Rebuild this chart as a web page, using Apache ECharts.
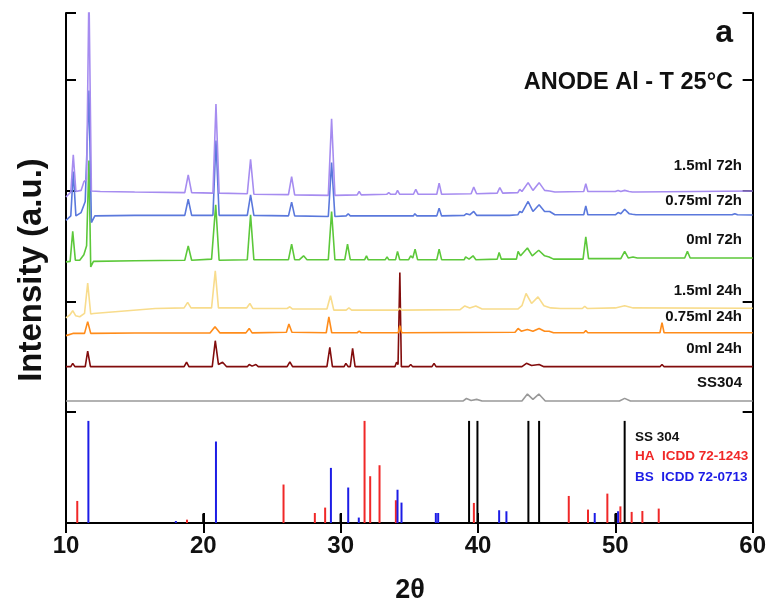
<!DOCTYPE html>
<html>
<head>
<meta charset="utf-8">
<script src="https://cdn.jsdelivr.net/npm/echarts@6/dist/echarts.min.js"></script>
<style>
  html, body { margin: 0; padding: 0; background: #fff; }
  #chart { width: 769px; height: 606px; }
</style>
</head>
<body>
<div id="chart"></div>
<script>
// x ticks (2θ)
const xTicks = [10, 20, 30, 40, 50, 60];

// sample names, top to bottom
const sampleNames = ['1.5ml 72h', '0.75ml 72h', '0ml 72h', '1.5ml 24h', '0.75ml 24h', '0ml 24h', 'SS304'];

// traces, [2θ, intensity] (stacked offsets included)
const ml15h72 = [[10.0,2.94],[10.35,2.985],[10.53,3.32],[10.72,2.99],[11.1,3.0],[11.31,3.08],[11.5,3.1],[11.67,4.8],[11.85,2.995],[12.5,2.99],[15.0,2.985],[18.65,2.98],[18.9,3.14],[19.15,2.98],[20.7,2.975],[20.92,3.78],[21.15,2.975],[23.2,2.97],[23.44,3.28],[23.68,2.965],[26.2,2.962],[26.43,3.125],[26.65,2.96],[29.1,2.955],[29.34,3.645],[29.58,2.955],[31.2,2.96],[31.35,2.99],[31.5,2.96],[33.35,2.965],[33.5,2.98],[33.65,2.965],[34.0,2.965],[34.14,3.0],[34.3,2.965],[35.3,2.965],[35.47,3.01],[35.65,2.965],[37.0,2.965],[37.17,3.066],[37.35,2.965],[39.5,2.97],[39.69,3.03],[39.9,2.97],[41.4,2.975],[41.59,3.026],[41.8,2.975],[42.9,2.98],[43.04,3.01],[43.2,2.99],[43.65,3.07],[44.0,3.0],[44.45,3.07],[44.85,3.0],[45.22,2.995],[45.6,2.985],[47.7,2.99],[47.85,3.06],[48.0,2.99],[50.0,2.99],[50.2,3.0],[50.4,2.99],[50.68,3.0],[51.0,2.99],[51.24,2.985],[51.5,2.985],[60.0,2.995]];
const ml075h72 = [[10.0,2.73],[10.35,2.77],[10.53,3.17],[10.72,2.77],[11.1,2.8],[11.4,2.9],[11.67,3.9],[11.85,2.71],[12.1,2.77],[15,2.775],[18.65,2.775],[18.9,2.92],[19.15,2.775],[20.7,2.775],[20.92,3.45],[21.15,2.775],[23.2,2.775],[23.44,2.96],[23.68,2.775],[26.2,2.77],[26.43,2.894],[26.65,2.77],[29.1,2.765],[29.34,3.25],[29.58,2.765],[30.4,2.77],[30.55,2.79],[30.7,2.77],[34.0,2.77],[34.14,2.785],[34.3,2.77],[35.3,2.77],[35.4,2.79],[35.55,2.77],[37.0,2.77],[37.17,2.84],[37.35,2.77],[39.0,2.775],[39.16,2.79],[39.4,2.78],[39.69,2.81],[39.9,2.775],[41.45,2.775],[41.59,2.79],[41.75,2.775],[42.0,2.775],[42.12,2.785],[42.3,2.775],[42.9,2.78],[43.04,2.81],[43.2,2.8],[43.65,2.9],[44.0,2.81],[44.45,2.87],[44.85,2.81],[45.22,2.81],[45.6,2.78],[47.7,2.78],[47.85,2.86],[48.0,2.78],[50.0,2.78],[50.2,2.8],[50.4,2.79],[50.68,2.83],[51.0,2.79],[51.24,2.785],[51.5,2.78],[58.5,2.78],[58.7,2.79],[58.9,2.78],[60,2.778]];
const ml0h72 = [[10.0,2.355],[10.3,2.36],[10.49,2.63],[10.68,2.37],[11.0,2.37],[11.3,2.42],[11.5,2.5],[11.67,3.27],[11.8,2.31],[12.0,2.36],[15,2.365],[18.65,2.37],[18.9,2.5],[19.15,2.37],[20.6,2.38],[20.9,2.87],[21.15,2.37],[23.2,2.375],[23.44,2.78],[23.68,2.375],[26.2,2.375],[26.43,2.515],[26.65,2.375],[27.0,2.375],[27.3,2.41],[27.55,2.375],[29.1,2.375],[29.34,2.81],[29.58,2.375],[30.3,2.375],[30.5,2.515],[30.7,2.375],[31.75,2.375],[31.88,2.41],[32.0,2.375],[33.25,2.375],[33.38,2.4],[33.5,2.375],[34.0,2.375],[34.14,2.45],[34.3,2.375],[34.95,2.375],[35.1,2.41],[35.25,2.39],[35.42,2.47],[35.6,2.375],[37.0,2.375],[37.17,2.47],[37.35,2.375],[39.0,2.375],[39.1,2.4],[39.35,2.38],[39.64,2.41],[39.85,2.375],[41.4,2.38],[41.54,2.44],[41.7,2.38],[42.8,2.38],[42.92,2.45],[43.1,2.41],[43.6,2.48],[43.95,2.41],[44.42,2.46],[44.85,2.41],[45.18,2.4],[45.5,2.38],[47.65,2.38],[47.85,2.58],[48.05,2.385],[50.4,2.385],[50.68,2.45],[50.95,2.39],[51.29,2.4],[51.6,2.39],[55.05,2.39],[55.25,2.45],[55.45,2.39],[60,2.39]];
const ml15h24 = [[10.0,1.85],[10.3,1.88],[10.49,1.915],[10.7,1.87],[11.0,1.86],[11.35,1.89],[11.58,2.163],[11.8,1.885],[12.0,1.89],[16.5,1.935],[18.6,1.94],[18.86,1.99],[19.1,1.94],[20.6,1.94],[20.87,2.274],[21.1,1.94],[23.15,1.94],[23.39,1.98],[23.6,1.935],[26.1,1.935],[26.3,1.95],[26.5,1.93],[29.0,1.93],[29.26,2.05],[29.5,1.92],[30.4,1.92],[30.6,1.94],[30.8,1.92],[34.15,1.92],[34.3,1.935],[34.45,1.92],[38.7,1.925],[39.04,1.958],[39.4,1.94],[39.84,1.958],[40.3,1.93],[42.9,1.93],[43.2,1.96],[43.5,2.07],[43.9,1.98],[44.37,2.04],[44.8,1.96],[45.3,1.94],[46,1.935],[47.6,1.935],[47.77,1.955],[47.95,1.935],[50.0,1.94],[50.68,1.96],[51.3,1.94],[60,1.937]];
const ml075h24 = [[10.0,1.69],[10.5,1.71],[11.35,1.71],[11.58,1.816],[11.8,1.71],[15,1.714],[20.5,1.715],[20.85,1.77],[21.2,1.715],[23.1,1.715],[23.34,1.755],[23.55,1.715],[26.05,1.72],[26.23,1.795],[26.45,1.72],[28.95,1.716],[29.14,1.86],[29.35,1.716],[31.2,1.716],[31.35,1.73],[31.5,1.716],[34.2,1.716],[34.31,1.78],[34.45,1.716],[42.7,1.72],[42.92,1.755],[43.15,1.73],[43.6,1.745],[44.0,1.73],[44.45,1.755],[44.85,1.73],[45.18,1.73],[45.5,1.716],[47.7,1.716],[47.85,1.735],[48.0,1.716],[53.25,1.716],[53.4,1.807],[53.55,1.716],[60,1.716]];
const ml0h24 = [[10.0,1.41],[10.35,1.41],[10.49,1.44],[10.65,1.41],[11.4,1.41],[11.58,1.55],[11.78,1.41],[18.6,1.41],[18.78,1.45],[18.95,1.41],[20.65,1.41],[20.87,1.644],[21.1,1.43],[21.4,1.45],[21.7,1.41],[23.2,1.41],[23.34,1.43],[23.55,1.415],[23.83,1.43],[24.0,1.41],[26.1,1.41],[26.3,1.454],[26.5,1.41],[29.0,1.41],[29.21,1.584],[29.4,1.41],[30.25,1.41],[30.38,1.44],[30.55,1.41],[30.7,1.41],[30.87,1.575],[31.05,1.41],[33.95,1.41],[34.07,1.45],[34.18,1.43],[34.31,2.26],[34.42,1.41],[34.95,1.41],[35.1,1.43],[35.25,1.41],[36.65,1.41],[36.8,1.44],[36.95,1.41],[43.2,1.41],[43.53,1.44],[43.9,1.42],[44.45,1.43],[44.8,1.41],[53.25,1.41],[53.4,1.43],[53.55,1.41],[60,1.41]];
const ss304 = [[10,1.1],[38.9,1.1],[39.16,1.123],[39.5,1.105],[39.9,1.115],[40.3,1.1],[43.2,1.1],[43.6,1.163],[44.0,1.115],[44.43,1.163],[44.9,1.1],[50.3,1.1],[50.68,1.124],[51.1,1.1],[60,1.1]];

// reference patterns, [2θ, relative height]
const ssSticks = [[19.99,0.085],[29.99,0.085],[39.35,0.921],[39.96,0.921],[43.67,0.921],[44.45,0.921],[50.0,0.085],[50.68,0.921]];
const haSticks = [[10.82,0.199],[18.81,0.03],[25.84,0.347],[28.12,0.09],[28.87,0.139],[31.74,0.921],[32.15,0.422],[32.83,0.521],[34.02,0.205],[39.7,0.181],[46.61,0.244],[48.01,0.121],[49.42,0.265],[50.37,0.15],[51.19,0.1],[51.97,0.108],[53.16,0.13]];
const bsSticks = [[11.63,0.921],[18.0,0.018],[20.92,0.735],[29.29,0.497],[30.55,0.32],[31.32,0.049],[34.14,0.30],[34.43,0.184],[36.93,0.09],[37.1,0.09],[41.54,0.115],[42.07,0.106],[48.5,0.09],[50.2,0.106]];

const FONT = '"Liberation Sans", Arial, sans-serif';
const traces = [ml15h72, ml075h72, ml0h72, ml15h24, ml075h24, ml0h24, ss304];
const traceColors = ['#a68cf0', '#5a78dc', '#5cc83a', '#f8dc8c', '#ff8c1a', '#820c0c', '#999999'];
const labelY = [166, 201, 240, 291, 317, 349, 383];

function stickSeries(data, color) {
  return {
    type: 'custom',
    data: data,
    encode: { x: 0, y: 1 },
    renderItem: function (params, api) {
      const p0 = api.coord([api.value(0), 0]);
      const p1 = api.coord([api.value(0), api.value(1)]);
      return {
        type: 'line',
        shape: { x1: p0[0], y1: p0[1], x2: p1[0], y2: p1[1] },
        style: { stroke: color, lineWidth: 2 }
      };
    }
  };
}

const chart = echarts.init(document.getElementById('chart'));

const series = traces.map((d, i) => ({
  name: sampleNames[i],
  type: 'line',
  data: d,
  showSymbol: false,
  clip: true,
  lineStyle: { color: traceColors[i], width: 1.6 },
  z: 2 + (traces.length - i)
}));
series.push(stickSeries(ssSticks, '#000000'));
series.push(stickSeries(haSticks, '#f02828'));
series.push(stickSeries(bsSticks, '#1c1ce6'));

const graphics = sampleNames.map((n, i) => ({
  type: 'text', right: 27, top: labelY[i] - 8,
  style: { text: n, font: 'bold 15px ' + FONT, fill: '#111' }
}));
graphics.push(
  { type: 'text', x: 733, y: 33, style: { text: 'a', font: 'bold 32px ' + FONT, fill: '#111', textAlign: 'right', textVerticalAlign: 'middle' } },
  { type: 'text', x: 733, y: 83, style: { text: 'ANODE Al - T 25°C', font: 'bold 23.5px ' + FONT, fill: '#111', textAlign: 'right', textVerticalAlign: 'middle' } },
  { type: 'text', x: 635, y: 437, style: { text: 'SS 304', font: 'bold 13.5px ' + FONT, fill: '#111', textVerticalAlign: 'middle' } },
  { type: 'text', x: 635, y: 456, style: { text: 'HA  ICDD 72-1243', font: 'bold 13.5px ' + FONT, fill: '#f02828', textVerticalAlign: 'middle' } },
  { type: 'text', x: 635, y: 477, style: { text: 'BS  ICDD 72-0713', font: 'bold 13.5px ' + FONT, fill: '#1c1ce6', textVerticalAlign: 'middle' } },
  { type: 'text', x: 32, y: 270, rotation: Math.PI / 2, style: { text: 'Intensity (a.u.)', font: 'bold 33px ' + FONT, fill: '#111', textAlign: 'center', textVerticalAlign: 'middle' } },
  { type: 'text', x: 410, y: 591, style: { text: '2θ', font: 'bold 27px ' + FONT, fill: '#111', textAlign: 'center', textVerticalAlign: 'middle' } }
);

const axisLine = { show: true, lineStyle: { color: '#000', width: 2 } };
const tick = { show: true, inside: true, length: 10, lineStyle: { color: '#000', width: 2 } };

chart.setOption({
  animation: false,
  backgroundColor: '#fff',
  grid: { left: 66, right: 16, top: 13, bottom: 83, containLabel: false },
  xAxis: [
    {
      type: 'value', min: xTicks[0], max: xTicks[xTicks.length - 1], interval: 10, position: 'bottom',
      axisLine: axisLine, axisTick: tick, splitLine: { show: false },
      axisLabel: { fontFamily: FONT, fontWeight: 'bold', fontSize: 24, color: '#111', margin: 11 }
    },
    {
      type: 'value', min: xTicks[0], max: xTicks[xTicks.length - 1], interval: 10, position: 'top',
      axisLine: axisLine, axisTick: tick, axisLabel: { show: false }, splitLine: { show: false }
    }
  ],
  yAxis: [
    {
      type: 'value', min: 0, max: 4.6, interval: 1, position: 'left',
      axisLine: axisLine, axisTick: tick, axisLabel: { show: false }, splitLine: { show: false }
    },
    {
      type: 'value', min: 0, max: 4.6, interval: 1, position: 'right',
      axisLine: axisLine, axisTick: tick, axisLabel: { show: false }, splitLine: { show: false }
    }
  ],
  series: series,
  graphic: graphics
});
</script>
</body>
</html>
